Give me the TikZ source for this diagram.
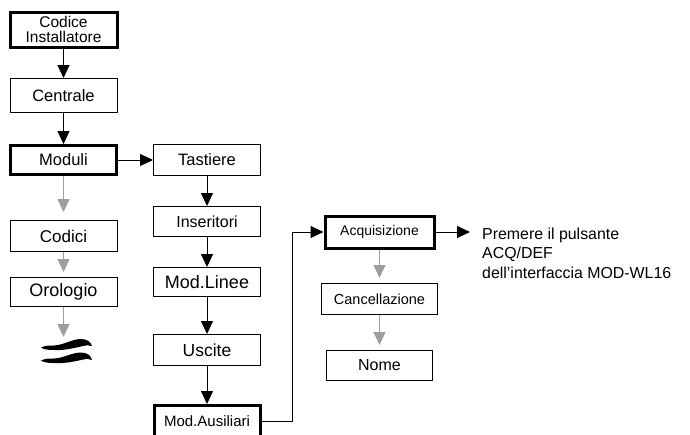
\documentclass[tikz,border=0pt]{standalone}
\usepackage{fontspec}
\setmainfont{Liberation Sans}
\usetikzlibrary{arrows.meta}
\tikzset{
  box/.style={draw=black, line width=1pt, rectangle, inner sep=0pt, align=center},
  thickbox/.style={box, line width=3pt},
  arr/.style={draw=black, line width=1pt, -{Triangle[length=13pt,width=12pt]}},
  garr/.style={draw=black!38, line width=1pt, -{Triangle[length=13pt,width=12pt]}, shorten >=5pt},
}
\newcommand{\fs}[1]{\fontsize{#1}{#1}\selectfont}
\begin{document}
\begin{tikzpicture}[x=1pt,y=-1pt]
\useasboundingbox (0,0) rectangle (690,434);
\clip (0,0) rectangle (690,434);
% left column
\node[thickbox, minimum width=107pt, minimum height=35pt, font=\fontsize{15.5}{15}\selectfont] (ci) at (63.5,29.5) {Codice\\Installatore};
\node[box, minimum width=107pt, minimum height=34pt, font=\fs{16.5}] (ce) at (63.5,95.5) {Centrale};
\node[thickbox, minimum width=106pt, minimum height=29pt, font=\fs{16.5}] (mo) at (63.5,160) {Moduli};
\node[box, minimum width=107pt, minimum height=31pt, font=\fs{17}] (co) at (63.5,236) {Codici};
\node[box, minimum width=107pt, minimum height=29pt, font=\fs{18}] (or) at (63.5,292) {Orologio};
\coordinate (wv) at (63.5,337);
% middle column
\node[box, minimum width=107pt, minimum height=31pt, font=\fs{16.5}] (ta) at (207,160) {Tastiere};
\node[box, minimum width=107pt, minimum height=30pt, font=\fs{16}] (in) at (207,221.5) {Inseritori};
\node[box, minimum width=107pt, minimum height=29pt, font=\fs{18}] (ml) at (207,282) {Mod.Linee};
\node[box, minimum width=107pt, minimum height=31pt, font=\fs{17.5}] (us) at (207,350) {Uscite};
\node[thickbox, minimum width=106pt, minimum height=32pt, font=\fs{15}] (ma) at (207,421.5) {Mod.Ausiliari};
% right column
\node[thickbox, minimum width=109pt, minimum height=32pt, font=\fs{14}] (aq) at (379.5,232) {Acquisizione};
\node[box, minimum width=116pt, minimum height=31pt, font=\fs{14.5}] (ca) at (379.5,299) {Cancellazione};
\node[box, minimum width=106pt, minimum height=30pt, font=\fs{16}] (no) at (379.5,365.5) {Nome};
\coordinate (out) at (470,232);
\node[anchor=north west, inner sep=0pt, align=left, font=\fontsize{15.9}{19.5}\selectfont] (tx) at (482,227.5) {Premere il pulsante\\ACQ/DEF\\dell’interfaccia MOD-WL16};
% connectors
\draw[arr] (ci) -- (ce);
\draw[arr] (ce) -- (mo);
\draw[garr, shorten >=8pt] (mo) -- (co);
\draw[garr] (co) -- (or);
\draw[garr, shorten >=0pt] (or) -- (wv);
\draw[arr] (mo) -- (ta);
\draw[arr] (ta) -- (in);
\draw[arr] (in) -- (ml);
\draw[arr] (ml) -- (us);
\draw[arr] (us) -- (ma);
\draw[arr] (ma.east) -- ++(31,0) |- (aq.west);
\draw[arr] (aq.east) -- (out);
\draw[garr] (aq) -- (ca);
\draw[garr] (ca) -- (no);
% wave symbol
\fill (41,347.5) .. controls (45,345.5) and (49,345.5) .. (54,345.5)
  .. controls (64,345) and (72,339) .. (81,339) .. controls (87,339) and (91,342) .. (92,346)
  .. controls (89,344.5) and (86,345.5) .. (81,346.5) .. controls (70,349) and (62,350.5) .. (54,350)
  .. controls (48,350) and (44,349.5) .. (41,347.5) -- cycle;
\fill (41,360.5) .. controls (45,358.5) and (49,358.5) .. (54,358.5)
  .. controls (64,358) and (72,352.5) .. (81,352.5) .. controls (87,352.5) and (91,355.5) .. (92,360)
  .. controls (89,358) and (86,359) .. (81,360) .. controls (70,362.5) and (62,363.5) .. (54,363)
  .. controls (48,363) and (44,362.5) .. (41,360.5) -- cycle;
\end{tikzpicture}
\end{document}
